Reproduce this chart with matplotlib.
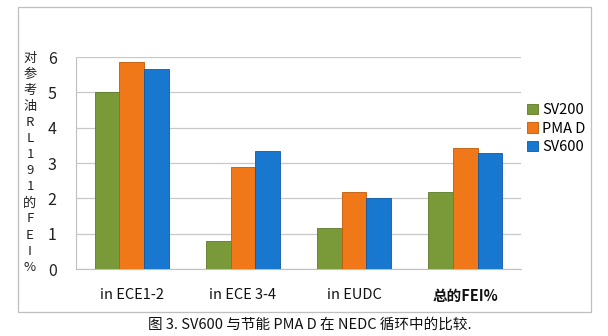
import numpy as np
import matplotlib.pyplot as plt
from matplotlib.patches import Rectangle

plt.rcParams['font.family'] = ['Noto Sans CJK SC', 'DejaVu Sans']

categories = ['in ECE1-2', 'in ECE 3-4', 'in EUDC', '总的FEI%']
series = ['SV200', 'PMA D', 'SV600']
sv200 = [5.0, 0.78, 1.15, 2.18]
pma_d = [5.86, 2.88, 2.17, 3.43]
sv600 = [5.66, 3.35, 2.01, 3.29]
ylabel = '对参考油RL191的FEI%'
caption = '图 3. SV600 与节能 PMA D 在 NEDC 循环中的比较.'

colors = ['#7A9A3A', '#F07818', '#1878D0']
edges = ['#5E7A28', '#C05A08', '#0E5AA8']

fig = plt.figure(figsize=(6.08, 3.36), dpi=100)

# outer chart frame
fig.patches.append(Rectangle((18 / 608, 1 - 312 / 336), 573 / 608, 305 / 336,
                             transform=fig.transFigure, fill=False,
                             edgecolor='#BFBFBF', linewidth=0.9))

ax = fig.add_axes([76 / 608, 1 - 269 / 336, 445 / 608, 212 / 336])

x = np.arange(len(categories))
w = 0.222
for i, (vals, name) in enumerate(zip([sv200, pma_d, sv600], series)):
    ax.bar(x + (i - 1) * w, vals, w, color=colors[i], edgecolor=edges[i],
           linewidth=0.6, label=name, zorder=3)

ax.set_xlim(-0.5, 3.5)
ax.set_ylim(0, 6)
ax.set_yticks(range(0, 7))
ax.yaxis.grid(True, color='#C8C8C8', linewidth=0.9, zorder=0)
ax.tick_params(axis='both', length=0)
ax.tick_params(axis='y', pad=14, labelsize=11.5, labelcolor='#222222')
ax.tick_params(axis='x', pad=14, labelsize=10.5, labelcolor='#111111')
ax.set_xticks(x)
ax.set_xticklabels(categories)
ax.get_xticklabels()[3].set_fontweight('bold')
for sp in ['top', 'right']:
    ax.spines[sp].set_visible(False)
ax.spines['left'].set_color('#BFBFBF')
ax.spines['bottom'].set_color('#BFBFBF')

# vertical y label, one character per row
for k, ch in enumerate(ylabel):
    fig.text(30 / 608, 1 - (58 + k * 16.1) / 336, ch, ha='center', va='center',
             fontsize=9.5, color='#222222')

ax.legend(loc='upper left', bbox_to_anchor=(520 / 608, 1 - 96 / 336),
          bbox_transform=fig.transFigure, frameon=False, fontsize=10.5,
          handlelength=0.7, handleheight=0.7, handletextpad=0.3,
          labelspacing=0.3, borderpad=0)

fig.text(310 / 608, 1 - 325 / 336, caption, ha='center', va='center',
         fontsize=10.5, color='#111111')

fig.savefig('out.png', dpi=100)
